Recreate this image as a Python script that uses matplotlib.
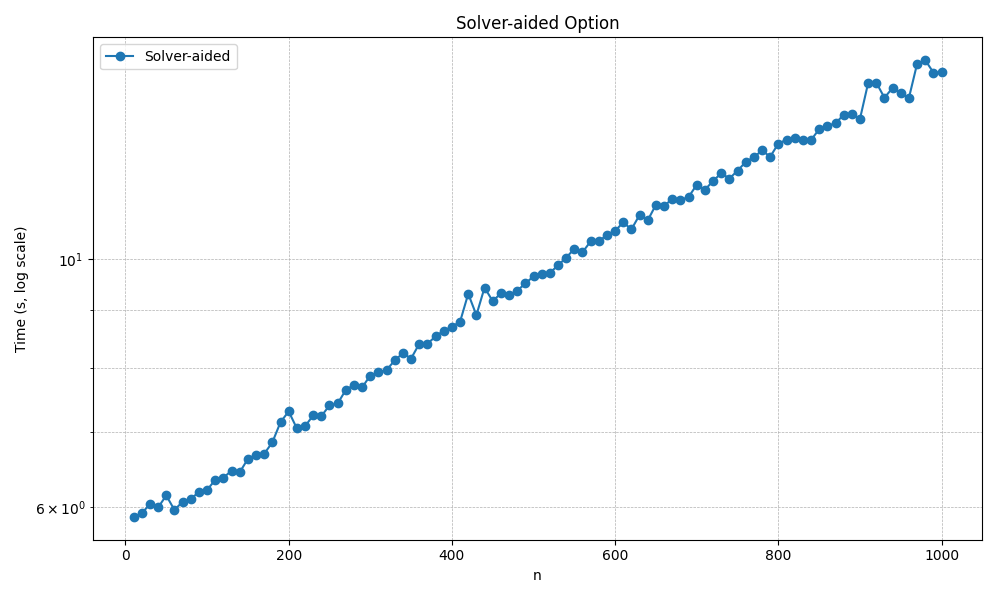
import matplotlib
matplotlib.use("Agg")
import matplotlib.pyplot as plt
import numpy as np

# problem sizes and measured solve times (seconds)
n_values = list(range(10, 1001, 10))
times = [
    5.885, 5.93, 6.04, 6.00, 6.15, 5.97, 6.07, 6.11, 6.19, 6.22,
    6.35, 6.38, 6.47, 6.45, 6.63, 6.69, 6.70, 6.86, 7.15, 7.31,
    7.06, 7.09, 7.25, 7.24, 7.40, 7.43, 7.64, 7.72, 7.68, 7.87,
    7.92, 7.96, 8.12, 8.24, 8.15, 8.40, 8.40, 8.53, 8.63, 8.70,
    8.79, 9.31, 8.91, 9.43, 9.17, 9.32, 9.29, 9.37, 9.51, 9.65,
    9.70, 9.72, 9.87, 10.03, 10.21, 10.14, 10.37, 10.37, 10.51, 10.60,
    10.78, 10.63, 10.95, 10.83, 11.18, 11.15, 11.32, 11.29, 11.36, 11.65,
    11.53, 11.74, 11.93, 11.80, 11.99, 12.21, 12.33, 12.50, 12.34, 12.68,
    12.78, 12.83, 12.77, 12.77, 13.06, 13.15, 13.22, 13.45, 13.48, 13.34,
    14.36, 14.37, 13.93, 14.22, 14.06, 13.93, 14.94, 15.05, 14.67, 14.68,
]

fig, ax = plt.subplots(figsize=(9.97, 5.98), dpi=100)
ax.plot(n_values, times, marker='o', label='Solver-aided')
ax.set_yscale('log')
ax.set_title('Solver-aided Option')
ax.set_xlabel('n')
ax.set_ylabel('Time (s, log scale)')
ax.grid(True, which='both', linestyle='--', linewidth=0.5)
ax.legend(loc='upper left')
fig.tight_layout()
fig.savefig('out.png')
